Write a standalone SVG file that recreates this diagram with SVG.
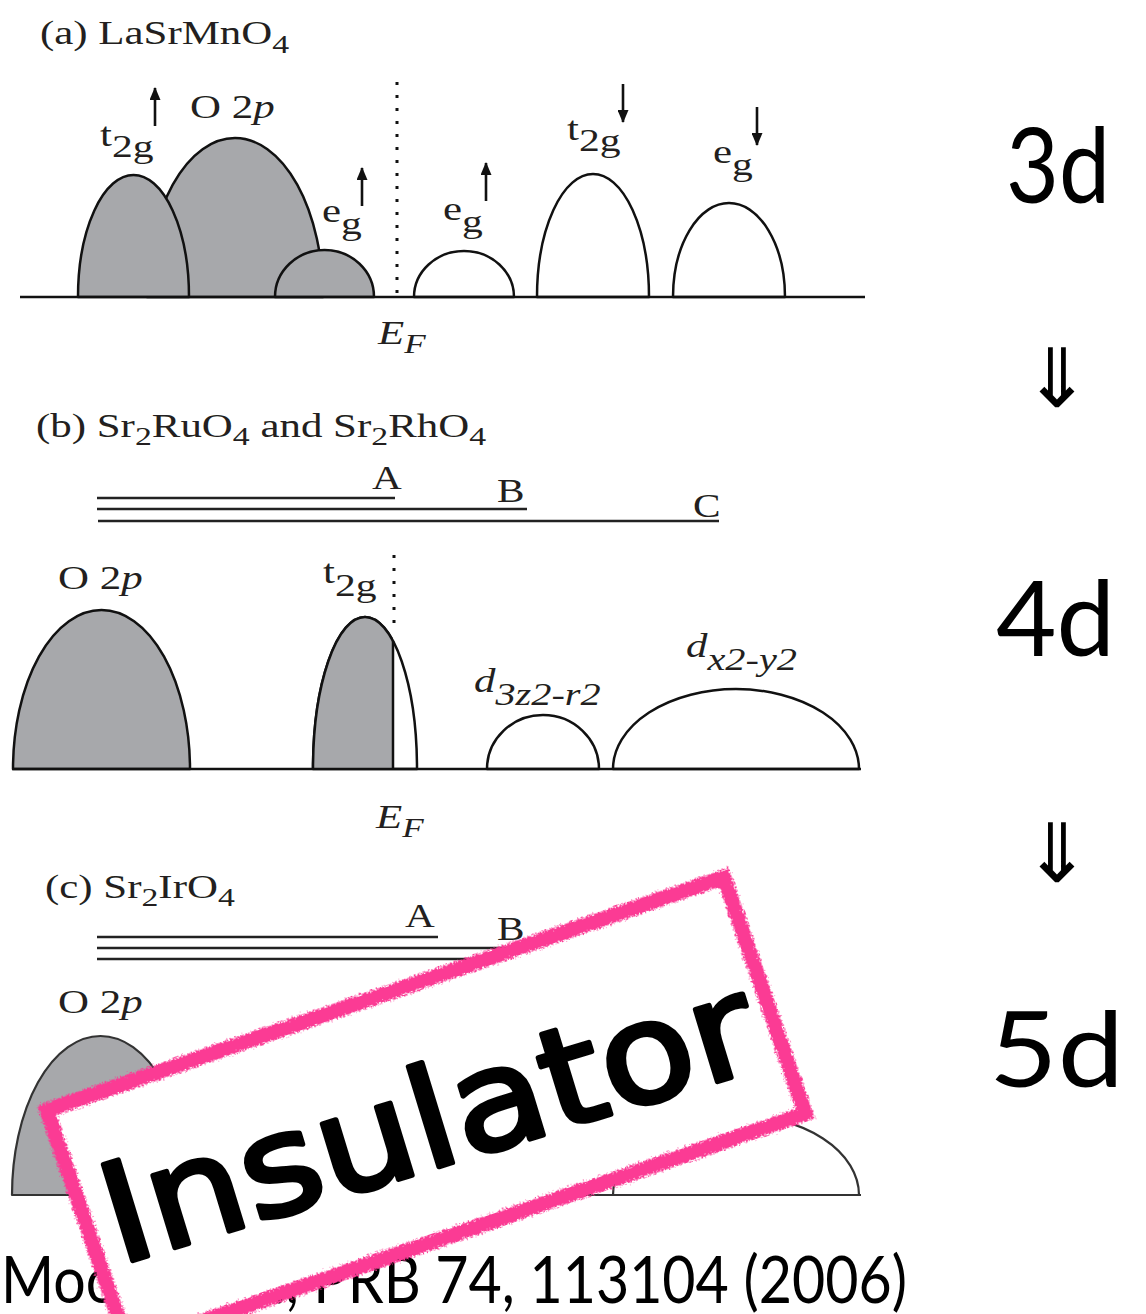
<svg xmlns="http://www.w3.org/2000/svg" width="1146" height="1314" viewBox="0 0 1146 1314">
<style>
.tm{font-family:"Liberation Serif","Times New Roman",serif;font-size:33px;fill:#231f20}
.it{font-style:italic}
.band{stroke:#111;stroke-width:2.5;stroke-linejoin:round}
.filled{fill:#a7a8ab}
.empty{fill:#fff}
.axis{stroke:#111;stroke-width:2.6;fill:none}
.lvl{stroke:#222;stroke-width:2.4;fill:none}
.dot{stroke:#111;stroke-width:3;stroke-dasharray:3 10;fill:none}
.spin{stroke:#111;stroke-width:2.6;fill:none}
.big{font-family:Lato,"Noto Sans",sans-serif;font-size:104px;fill:#000}
.cite{font-family:Lato,"Noto Sans",sans-serif;font-size:66px;fill:#000}
.dbl{font-family:"DejaVu Sans",sans-serif;font-size:82px;fill:#000}
</style>
<defs>
<marker id="ah" viewBox="0 0 13 11" refX="12" refY="5.5" markerWidth="13" markerHeight="11" markerUnits="userSpaceOnUse" orient="auto">
<path d="M0,0 L13,5.5 L0,11 Z" fill="#111"/>
</marker>
<clipPath id="leftEF"><rect x="0" y="500" width="393" height="300"/></clipPath>
<filter id="rough" x="-5%" y="-10%" width="110%" height="120%">
<feTurbulence type="fractalNoise" baseFrequency="0.55" numOctaves="2" seed="3" result="n"/>
<feDisplacementMap in="SourceGraphic" in2="n" scale="8" xChannelSelector="R" yChannelSelector="G"/>
</filter>
</defs>

<!-- Panel (a) -->
<g id="panel-a">
<text class="tm" transform="translate(40,44) scale(1.3,1)">(a) LaSrMnO<tspan font-size="26" dy="9">4</tspan></text>
<g id="a-o2p"><path class="band filled" d="M147,297 A88,159 0 0 1 323,297 Z"/>
<text class="tm" transform="translate(190,118) scale(1.3,1)">O 2<tspan class="it">p</tspan></text></g>
<g id="a-t2g-up"><path class="band filled" d="M78,297 A55.5,122 0 0 1 189,297 Z"/>
<text class="tm" transform="translate(100,146) scale(1.3,1)" font-size="38">t<tspan font-size="32" dy="11">2g</tspan></text></g>
<g id="a-eg-up-occ"><path class="band filled" d="M275,297 A49.5,47 0 0 1 374,297 Z"/>
<text class="tm" transform="translate(322,222) scale(1.3,1)" font-size="38">e<tspan font-size="32" dy="12">g</tspan></text></g>
<g id="a-eg-up-emp"><path class="band empty" d="M414,297 A50,46 0 0 1 514,297 Z"/>
<text class="tm" transform="translate(443,220) scale(1.3,1)" font-size="38">e<tspan font-size="32" dy="12">g</tspan></text></g>
<g id="a-t2g-dn"><path class="band empty" d="M537,297 A56,123 0 0 1 649,297 Z"/>
<text class="tm" transform="translate(567,140) scale(1.3,1)" font-size="38">t<tspan font-size="32" dy="11">2g</tspan></text></g>
<g id="a-eg-dn"><path class="band empty" d="M673,297 A56,94 0 0 1 785,297 Z"/>
<text class="tm" transform="translate(713,163) scale(1.3,1)" font-size="38">e<tspan font-size="32" dy="12">g</tspan></text></g>
<line class="axis" x1="20" y1="297" x2="865" y2="297"/>
<line class="dot" x1="397" y1="82" x2="397" y2="295"/>
<text class="tm it" transform="translate(378,344) scale(1.3,1)" font-size="35">E<tspan font-size="27" dy="9">F</tspan></text>
</g>

<!-- Panel (b) -->
<g id="panel-b">
<text class="tm" transform="translate(36,437) scale(1.3,1)">(b) Sr<tspan font-size="26" dy="8">2</tspan><tspan dy="-8">RuO</tspan><tspan font-size="26" dy="8">4</tspan><tspan dy="-8"> and Sr</tspan><tspan font-size="26" dy="8">2</tspan><tspan dy="-8">RhO</tspan><tspan font-size="26" dy="8">4</tspan></text>
<g id="b-levels">
<line class="lvl" x1="97" y1="498" x2="395" y2="498"/>
<line class="lvl" x1="97" y1="509" x2="527" y2="509"/>
<line class="lvl" x1="98" y1="521" x2="719" y2="521"/>
<text class="tm" transform="translate(372,489) scale(1.25,1)" font-size="31">A</text>
<text class="tm" transform="translate(497,502) scale(1.25,1)" font-size="31">B</text>
<text class="tm" transform="translate(693,517) scale(1.25,1)" font-size="31">C</text>
</g>
<g id="b-o2p"><path class="band filled" d="M13,769 A88.5,159 0 0 1 190,769 Z"/>
<text class="tm" transform="translate(58,589) scale(1.3,1)">O 2<tspan class="it">p</tspan></text></g>
<g id="b-t2g">
<path class="band empty" d="M313,769 A52,152 0 0 1 417,769 Z"/>
<path class="filled" clip-path="url(#leftEF)" d="M313,769 A52,152 0 0 1 417,769 Z"/>
<path class="band" fill="none" clip-path="url(#leftEF)" d="M313,769 A52,152 0 0 1 417,769"/>
<line class="band" x1="393" y1="641" x2="393" y2="769"/>
<text class="tm" transform="translate(323,583) scale(1.3,1)" font-size="38">t<tspan font-size="32" dy="13">2g</tspan></text></g>
<g id="b-d3z2"><path class="band empty" d="M487,769 A56,54 0 0 1 599,769 Z"/>
<text class="tm it" transform="translate(474,692) scale(1.3,1)" font-size="36">d<tspan font-size="31" dy="13">3z2-r2</tspan></text></g>
<g id="b-dx2"><path class="band empty" d="M613,769 A123,80 0 0 1 859,769 Z"/>
<text class="tm it" transform="translate(686,657) scale(1.3,1)" font-size="36">d<tspan font-size="31" dy="13">x2-y2</tspan></text></g>
<line class="axis" x1="12" y1="769" x2="861" y2="769"/>
<line class="dot" x1="394" y1="555" x2="394" y2="632"/>
<text class="tm it" transform="translate(376,828) scale(1.3,1)" font-size="35">E<tspan font-size="27" dy="9">F</tspan></text>
</g>

<!-- Panel (c) -->
<g id="panel-c">
<text class="tm" transform="translate(45,898) scale(1.3,1)">(c) Sr<tspan font-size="26" dy="8">2</tspan><tspan dy="-8">IrO</tspan><tspan font-size="26" dy="8">4</tspan></text>
<g id="c-levels">
<line class="lvl" x1="97" y1="937" x2="438" y2="937"/>
<line class="lvl" x1="97" y1="948" x2="527" y2="948"/>
<line class="lvl" x1="97" y1="959" x2="719" y2="959"/>
<text class="tm" transform="translate(405,927) scale(1.25,1)" font-size="31">A</text>
<text class="tm" transform="translate(497,940) scale(1.25,1)" font-size="31">B</text>
</g>
<g id="c-o2p"><path class="band filled" style="stroke:#333;stroke-width:2.2" d="M12,1195 A88.5,159 0 0 1 189,1195 Z"/>
<text class="tm" transform="translate(58,1013) scale(1.3,1)">O 2<tspan class="it">p</tspan></text></g>
<g id="c-dx2"><path class="band empty" style="stroke:#333;stroke-width:2.2" d="M613,1195 A123,80 0 0 1 859,1195 Z"/></g>
<line class="axis" style="stroke:#333;stroke-width:2.2" x1="12" y1="1195" x2="861" y2="1195"/>
</g>

<!-- Spin arrows -->
<g id="connectors">
<line class="spin" x1="155" y1="126" x2="155" y2="88" marker-end="url(#ah)"/>
<line class="spin" x1="362" y1="206" x2="362" y2="168" marker-end="url(#ah)"/>
<line class="spin" x1="486" y1="201" x2="486" y2="163" marker-end="url(#ah)"/>
<line class="spin" x1="623" y1="84" x2="623" y2="122" marker-end="url(#ah)"/>
<line class="spin" x1="757" y1="107" x2="757" y2="145" marker-end="url(#ah)"/>
</g>

<!-- Right column -->
<g id="label-3d"><text class="big" x="1006" y="203" textLength="104" lengthAdjust="spacingAndGlyphs">3d</text></g>
<g id="arrow-1"><text class="dbl" x="1057" y="407" text-anchor="middle">⇓</text></g>
<g id="label-4d"><text class="big" x="996" y="656" textLength="119" lengthAdjust="spacingAndGlyphs">4d</text></g>
<g id="arrow-2"><text class="dbl" x="1057" y="882" text-anchor="middle">⇓</text></g>
<g id="label-5d"><text class="big" x="989" y="1087" textLength="135" lengthAdjust="spacingAndGlyphs">5d</text></g>

<!-- Citation -->
<g id="citation"><text class="cite" x="1" y="1303" textLength="906" lengthAdjust="spacingAndGlyphs">Moon et al., PRB 74, 113104 (2006)</text></g>

<!-- Stamp -->
<g id="stamp">
<g transform="translate(38,1106) rotate(-19)">
<rect x="7" y="7" width="716" height="250" fill="#fff"/>
<rect x="7" y="7" width="716" height="250" fill="none" stroke="#fb3a94" stroke-width="15" filter="url(#rough)"/>
</g>
<text transform="translate(128,1262) rotate(-17)" x="-10" y="0" font-family="'DejaVu Sans',sans-serif" font-size="138" textLength="676" lengthAdjust="spacingAndGlyphs" fill="#000" stroke="#000" stroke-width="5" stroke-linejoin="round" stroke-linecap="round">Insulator</text>
</g>
</svg>
